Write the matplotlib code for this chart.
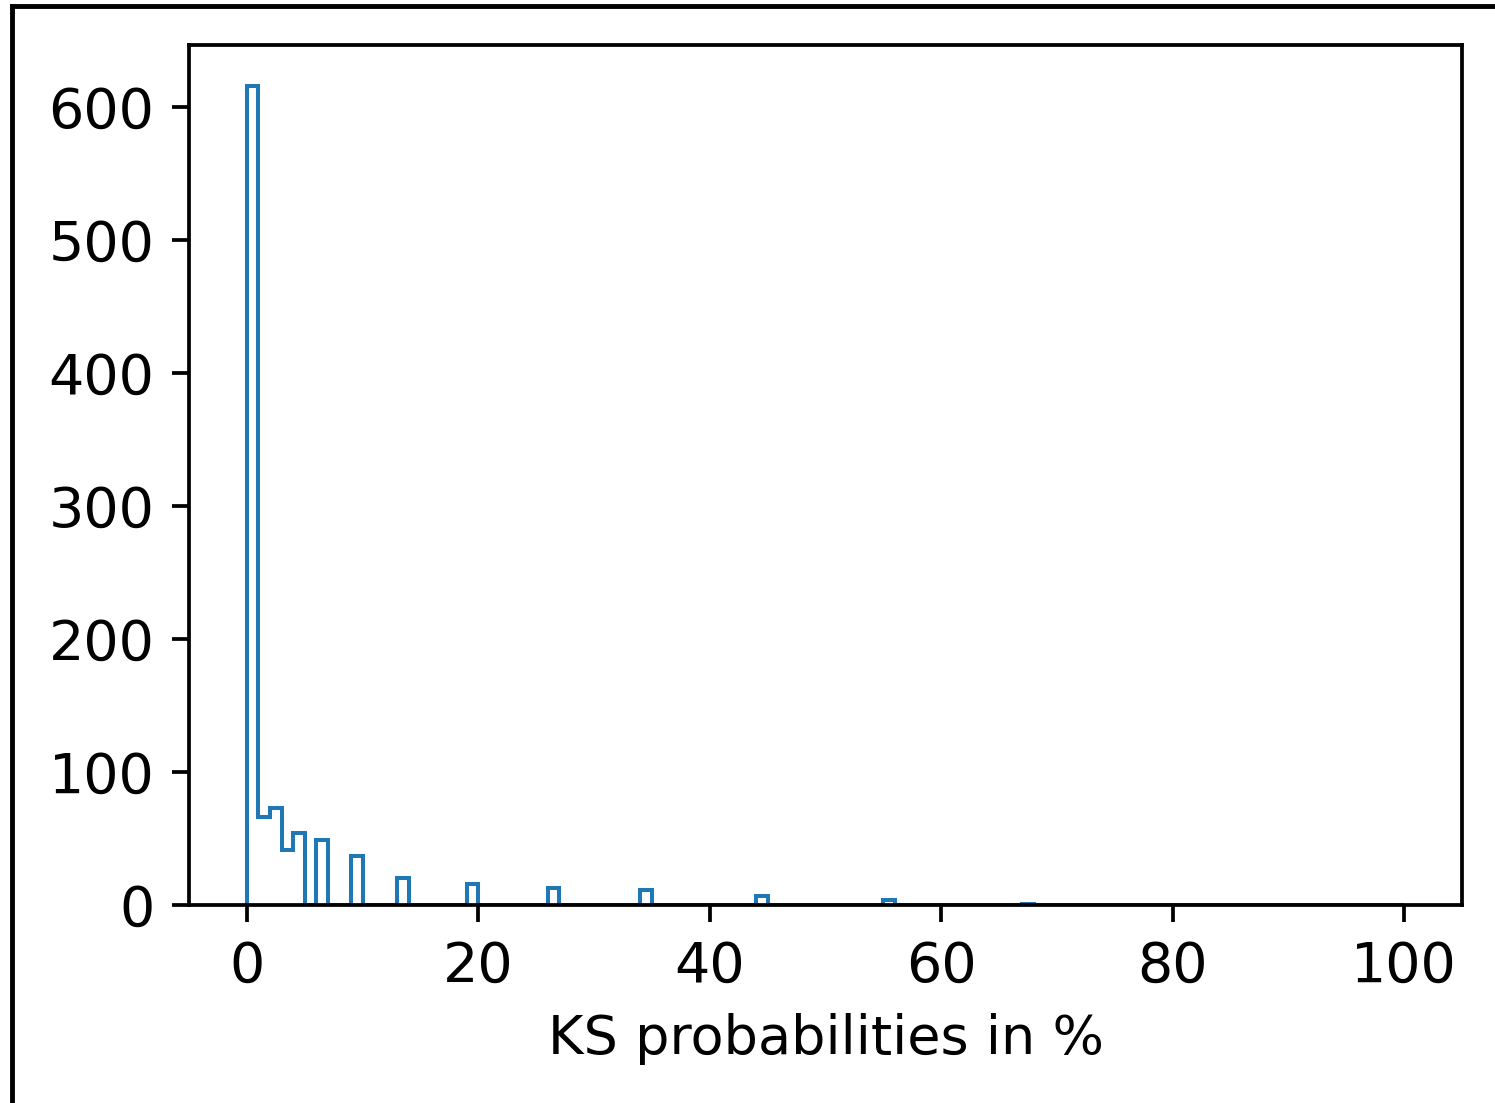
import numpy as np
import matplotlib.pyplot as plt
from matplotlib.lines import Line2D

# Histogram of KS probabilities (percent), 1%-wide bins from 0 to 100
bin_edges = np.arange(0, 101, 1)
nonzero_bins = [0, 1, 2, 3, 4, 6, 9, 13, 19, 26, 34, 44, 55, 67]
nonzero_counts = [616, 66, 73, 41, 54, 49, 37, 20, 16, 13, 11, 7, 4, 1]

counts = np.zeros(len(bin_edges) - 1)
counts[nonzero_bins] = nonzero_counts

x_ticks = [0, 20, 40, 60, 80, 100]
y_ticks = [0, 100, 200, 300, 400, 500, 600]

fig = plt.figure(figsize=(14.95, 11.03), dpi=100)
ax = fig.add_axes([189 / 1495, 1 - 905 / 1103, (1462 - 189) / 1495, (905 - 45) / 1103])

ax.hist(bin_edges[:-1], bins=bin_edges, weights=counts, histtype='step',
        color='#1f77b4', linewidth=2.9)

ax.set_xticks(x_ticks)
ax.set_yticks(y_ticks)
ax.tick_params(labelsize=40, length=12, width=2.7, pad=13)
for s in ax.spines.values():
    s.set_linewidth(2.7)
ax.set_xlabel('KS probabilities in %', fontsize=39, labelpad=14)

# screenshot frame edges
fig.add_artist(Line2D([12 / 1495, 12 / 1495], [0, 1 - 6 / 1103], color='black', linewidth=3.5))
fig.add_artist(Line2D([12 / 1495, 1], [1 - 6 / 1103, 1 - 6 / 1103], color='black', linewidth=3.5))

fig.savefig('out.png', dpi=100)
